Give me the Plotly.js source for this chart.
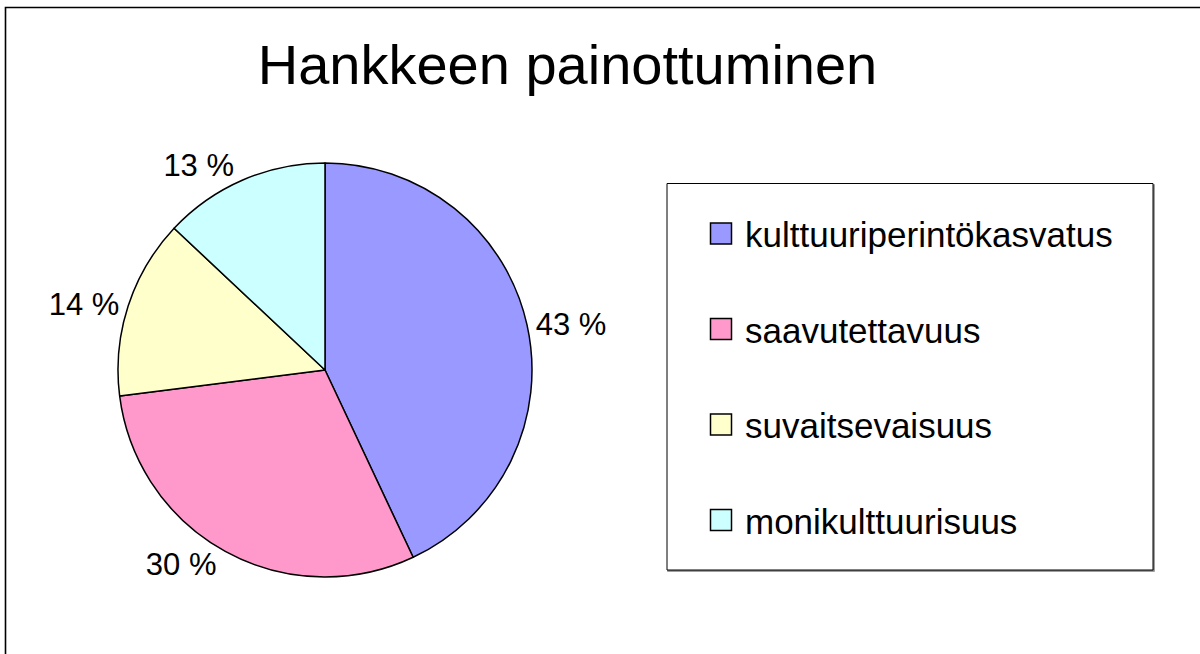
<!DOCTYPE html>
<html>
<head>
<meta charset="utf-8">
<script src="https://cdn.plot.ly/plotly-3.0.1.min.js"></script>
<style>html,body{margin:0;padding:0;background:#fff}#chart{width:1200px;height:654px}</style>
</head>
<body>
<div id="chart"></div>
<script>
var labels = ["kulttuuriperintökasvatus", "saavutettavuus", "suvaitsevaisuus", "monikulttuurisuus"];
var values = [43, 30, 14, 13];
var colors = ["#9999FF", "#FF99CC", "#FFFFCC", "#CCFFFF"];
var titleText = "Hankkeen painottuminen";

var W = 1200, H = 654;
function px(x) { return x / W; }
function py(y) { return 1 - y / H; }

var font = "Arial, 'Liberation Sans', sans-serif";

var shapes = [];
var annotations = [];

// outer frame
shapes.push({type: "rect", xref: "paper", yref: "paper", x0: px(5.5), x1: 1.02, y0: -0.02, y1: py(7.5),
  line: {color: "#000", width: 1.6}, fillcolor: "rgba(0,0,0,0)", layer: "below"});
// legend box shadow + box
shapes.push({type: "rect", xref: "paper", yref: "paper", x0: px(668), x1: px(1154), y0: py(571), y1: py(185),
  line: {color: "#808080", width: 1.5}, fillcolor: "#808080", layer: "below"});
shapes.push({type: "rect", xref: "paper", yref: "paper", x0: px(667), x1: px(1153), y0: py(570), y1: py(183.5),
  line: {color: "#000", width: 1}, fillcolor: "#fff", layer: "below"});

var legY0 = 233.5, legStep = 95.5;
for (var i = 0; i < labels.length; i++) {
  var cy = legY0 + i * legStep;
  shapes.push({type: "rect", xref: "paper", yref: "paper",
    x0: px(710.5), x1: px(731.5), y0: py(cy + 10.5), y1: py(cy - 10.5),
    line: {color: "#000", width: 1.5}, fillcolor: colors[i]});
  annotations.push({xref: "paper", yref: "paper", x: px(743), y: py(cy + 1), xanchor: "left", yanchor: "middle",
    text: labels[i], showarrow: false, font: {family: font, size: 35, color: "#000"}});
}

var data = [{
  type: "pie",
  labels: labels,
  values: values,
  marker: {colors: colors, line: {color: "#000", width: 1.5}},
  sort: false,
  direction: "clockwise",
  rotation: 0,
  textposition: "outside",
  texttemplate: "%{value} %",
  outsidetextfont: {family: font, size: 31, color: "#000"},
  hoverinfo: "label+percent",
  showlegend: false,
  domain: {x: [px(325 - 207), px(325 + 207)], y: [py(370 + 207), py(370 - 207)]}
}];

var layout = {
  width: W, height: H,
  margin: {l: 0, r: 0, t: 0, b: 0},
  paper_bgcolor: "#fff",
  font: {family: font, color: "#000"},
  title: {text: titleText, font: {family: font, size: 56, color: "#000"},
    x: px(567.5), xanchor: "center", xref: "paper", y: py(64), yref: "container", yanchor: "middle"},
  showlegend: false,
  shapes: shapes,
  annotations: annotations
};

Plotly.newPlot("chart", data, layout, {displayModeBar: false, staticPlot: true});
</script>
</body>
</html>
